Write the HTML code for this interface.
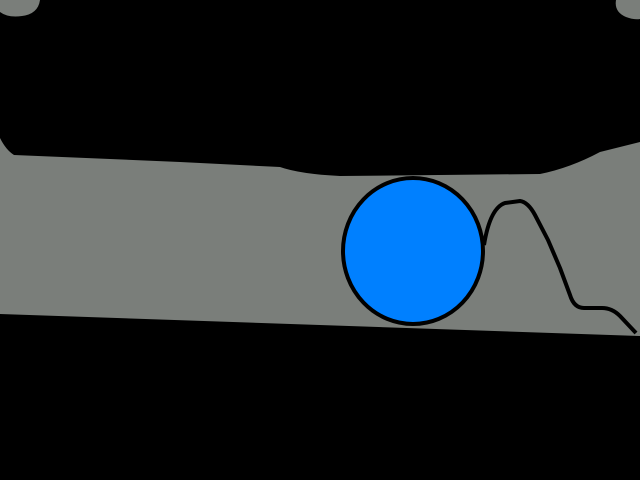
<!DOCTYPE html>
<html><head><style>html,body{margin:0;padding:0;background:#000;}svg{display:block}</style></head>
<body>
<svg width="640" height="480" viewBox="0 0 640 480" xmlns="http://www.w3.org/2000/svg">
<rect width="640" height="480" fill="#000"/>
<path d="M0,0 L40,0 Q38,14 22,16 Q8,18 0,12 Z" fill="#7a7e7a"/>
<path d="M640,0 L616,0 Q614,12 626,17 Q634,20 640,19 Z" fill="#7a7e7a"/>
<path d="M0,138 Q6,150 14,155 L180,162 L280,167 Q300,174 340,176 L540,174 Q570,168 600,152 L640,142 L640,336 L0,314 Z" fill="#7a7e7a"/>
<ellipse cx="413" cy="251" rx="70" ry="73" fill="#0080ff" stroke="#000" stroke-width="4"/>
<path d="M484,245 Q490,208 505,203 L520,201 Q528,202 535,215 L548,240 L560,268 L570,295 Q574,308 584,308 L602,308 Q612,308 620,316 L636,333" fill="none" stroke="#000" stroke-width="4" stroke-linejoin="round"/>
</svg>
</body></html>
